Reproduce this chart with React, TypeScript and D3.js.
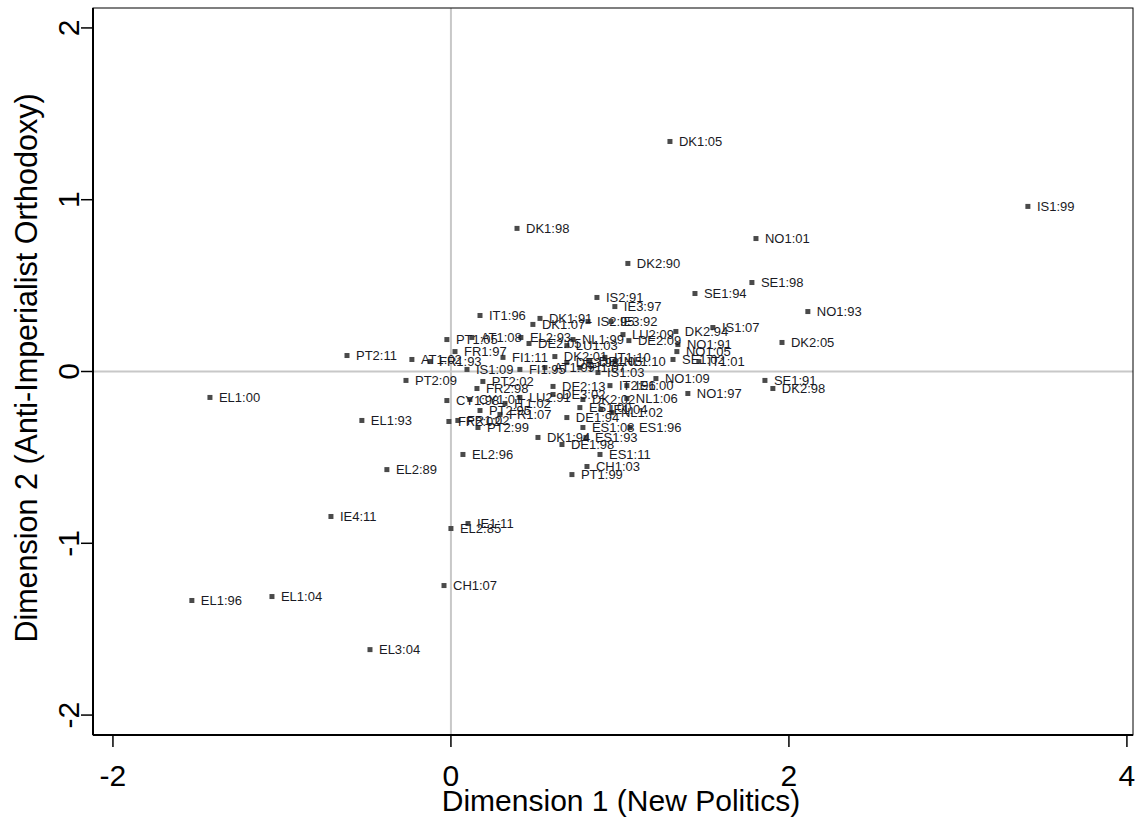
import React, { useRef, useEffect } from 'react';
import * as d3 from 'd3';

// party-year labels and the two dimension scores
const labels = [
  'DK1:05', 'IS1:99', 'NO1:01', 'DK1:98', 'DK2:90', 'SE1:98', 'SE1:94', 'NO1:93',
  'IS2:91', 'IE3:97', 'IS2:95', 'IE3:92', 'IS1:07', 'DK2:94', 'LU2:09', 'DE2:09',
  'NO1:91', 'NO1:05', 'SE1:02', 'IT1:01', 'DK2:05', 'SE1:91', 'DK2:98', 'NO1:09',
  'NO1:97', 'IE1:00', 'IT2:96', 'NL1:06', 'DK2:02', 'ES1:00', 'IE1:04', 'NL1:02',
  'ES1:08', 'ES1:96', 'ES1:93', 'DK1:94', 'DE1:98', 'ES1:11', 'CH1:03', 'PT1:99',
  'DE1:94', 'DE2:13', 'EL1:00', 'EL1:93', 'EL2:89', 'IE4:11', 'EL1:96', 'EL1:04',
  'EL3:04', 'CH1:07', 'EL2:85', 'IE1:11', 'EL2:96', 'PT2:11', 'PT1:05', 'AT1:08',
  'IT1:96', 'DK1:91', 'DK1:07', 'EL2:93', 'DE2:05', 'NL1:99', 'LU1:03', 'FR1:97',
  'FR1:93', 'AT1:02', 'PT2:09', 'FI1:11', 'IS1:09', 'FI1:95', 'DK2:01', 'DE3:98',
  'FI1:07', 'IT1:10', 'IS1:03', 'PT2:02', 'FR2:98', 'CY1:98', 'CY1:01', 'LU2:91',
  'IT1:02', 'PT2:95', 'FR1:07', 'PT2:99', 'FR2:02', 'FR1:02', 'DE3:02', 'AT1:99',
  'NL1:10', 'DE1:05'
];

const dim1 = [
  1.296, 3.414, 1.805, 0.391, 1.047, 1.781, 1.444, 2.112,
  0.864, 0.970, 0.811, 0.947, 1.550, 1.331, 1.018, 1.053,
  1.343, 1.337, 1.314, 1.467, 1.959, 1.858, 1.905, 1.213,
  1.402, 1.041, 0.941, 1.041, 0.781, 0.763, 0.888, 0.953,
  0.781, 1.059, 0.799, 0.515, 0.657, 0.882, 0.805, 0.716,
  0.686, 0.604, -1.426, -0.527, -0.379, -0.710, -1.533, -1.059,
  -0.479, -0.041, 0.000, 0.101, 0.071, -0.615, -0.024, 0.124,
  0.172, 0.527, 0.485, 0.414, 0.462, 0.722, 0.686, 0.024,
  -0.124, -0.231, -0.266, 0.308, 0.095, 0.408, 0.615, 0.686,
  0.763, 0.911, 0.870, 0.189, 0.154, -0.024, 0.112, 0.408,
  0.320, 0.172, 0.290, 0.160, -0.012, 0.041, 0.604, 0.556,
  0.970, 0.822
];

const dim2 = [
  1.339, 0.961, 0.774, 0.833, 0.629, 0.518, 0.454, 0.349,
  0.431, 0.378, 0.291, 0.291, 0.256, 0.233, 0.215, 0.180,
  0.157, 0.116, 0.070, 0.058, 0.169, -0.052, -0.099, -0.041,
  -0.128, -0.082, -0.082, -0.157, -0.163, -0.210, -0.221, -0.239,
  -0.326, -0.326, -0.384, -0.384, -0.425, -0.483, -0.553, -0.600,
  -0.268, -0.087, -0.151, -0.285, -0.571, -0.844, -1.333, -1.310,
  -1.619, -1.246, -0.914, -0.885, -0.483, 0.093, 0.186, 0.198,
  0.326, 0.309, 0.274, 0.198, 0.163, 0.186, 0.151, 0.116,
  0.058, 0.070, -0.052, 0.082, 0.012, 0.012, 0.087, 0.052,
  0.023, 0.082, -0.006, -0.058, -0.099, -0.169, -0.163, -0.151,
  -0.186, -0.227, -0.250, -0.326, -0.291, -0.285, -0.134, 0.023,
  0.058, 0.058
];

const xTicks = [-2, 0, 2, 4];
const yTicks = [-2, -1, 0, 1, 2];

const W = 1136;
const H = 817;
const FONT = "'Liberation Sans', Arial, sans-serif";

function App() {
  const ref = useRef<SVGSVGElement>(null);

  useEffect(() => {
    const svg = d3.select(ref.current);
    svg.selectAll('*').remove();

    var left = 93, right = 1133, top = 8, bottom = 735;

    const x = d3.scaleLinear().domain([-2.118, 4.036]).range([left, right]);
    const y = d3.scaleLinear().domain([-2.116, 2.116]).range([bottom, top]);

    const data = labels.map((l, i) => ({ label: l, x: dim1[i], y: dim2[i] }));

    // reference lines at 0
    svg.append('line')
      .attr('x1', x(0)).attr('x2', x(0))
      .attr('y1', top).attr('y2', bottom)
      .attr('stroke', '#c8c8c8').attr('stroke-width', 2);
    svg.append('line')
      .attr('x1', left).attr('x2', right)
      .attr('y1', y(0)).attr('y2', y(0))
      .attr('stroke', '#c8c8c8').attr('stroke-width', 2);

    // plot region outline
    svg.append('rect')
      .attr('x', left).attr('y', top)
      .attr('width', right - left).attr('height', bottom - top)
      .attr('fill', 'none').attr('stroke', '#000').attr('stroke-width', 1);

    // markers
    svg.selectAll('rect.pt')
      .data(data)
      .enter()
      .append('rect')
      .attr('class', 'pt')
      .attr('x', d => x(d.x) - 2.5)
      .attr('y', d => y(d.y) - 2.5)
      .attr('width', 5)
      .attr('height', 5)
      .attr('fill', '#4a4a4a');

    // marker labels (3 o'clock)
    svg.selectAll('text.lab')
      .data(data)
      .enter()
      .append('text')
      .attr('class', 'lab')
      .attr('x', d => x(d.x) + 9)
      .attr('y', d => y(d.y) + 4.5)
      .attr('font-family', FONT)
      .attr('font-size', '13px')
      .attr('fill', '#1a1a24')
      .text(d => d.label);

    // x axis
    const xa = svg.append('g');
    xa.append('line')
      .attr('x1', left).attr('x2', right)
      .attr('y1', bottom).attr('y2', bottom)
      .attr('stroke', '#000').attr('stroke-width', 2);
    xTicks.forEach(t => {
      xa.append('line')
        .attr('x1', x(t)).attr('x2', x(t))
        .attr('y1', bottom).attr('y2', bottom + 12)
        .attr('stroke', '#000').attr('stroke-width', 1.5);
      xa.append('text')
        .attr('x', x(t)).attr('y', 786)
        .attr('text-anchor', 'middle')
        .attr('font-family', FONT).attr('font-size', '30px')
        .text(t);
    });
    xa.append('text')
      .attr('x', 621).attr('y', 811)
      .attr('text-anchor', 'middle')
      .attr('font-family', FONT).attr('font-size', '30px')
      .text('Dimension 1 (New Politics)');

    // y axis
    const ya = svg.append('g');
    ya.append('line')
      .attr('x1', left).attr('x2', left)
      .attr('y1', top).attr('y2', bottom)
      .attr('stroke', '#000').attr('stroke-width', 2);
    yTicks.forEach(t => {
      ya.append('line')
        .attr('x1', left - 12).attr('x2', left)
        .attr('y1', y(t)).attr('y2', y(t))
        .attr('stroke', '#000').attr('stroke-width', 1.5);
      ya.append('text')
        .attr('transform', 'translate(79,' + y(t) + ') rotate(-90)')
        .attr('text-anchor', 'middle')
        .attr('font-family', FONT).attr('font-size', '30px')
        .text(t);
    });
    ya.append('text')
      .attr('transform', 'translate(37,368) rotate(-90)')
      .attr('text-anchor', 'middle')
      .attr('font-family', FONT).attr('font-size', '30.5px')
      .text('Dimension 2 (Anti-Imperialist Orthodoxy)');
  }, []);

  return (
    <svg ref={ref} width={W} height={H}
      style={{ position: 'absolute', left: 0, top: 0, background: '#fff' }}>
    </svg>
  );
}

export default App;
